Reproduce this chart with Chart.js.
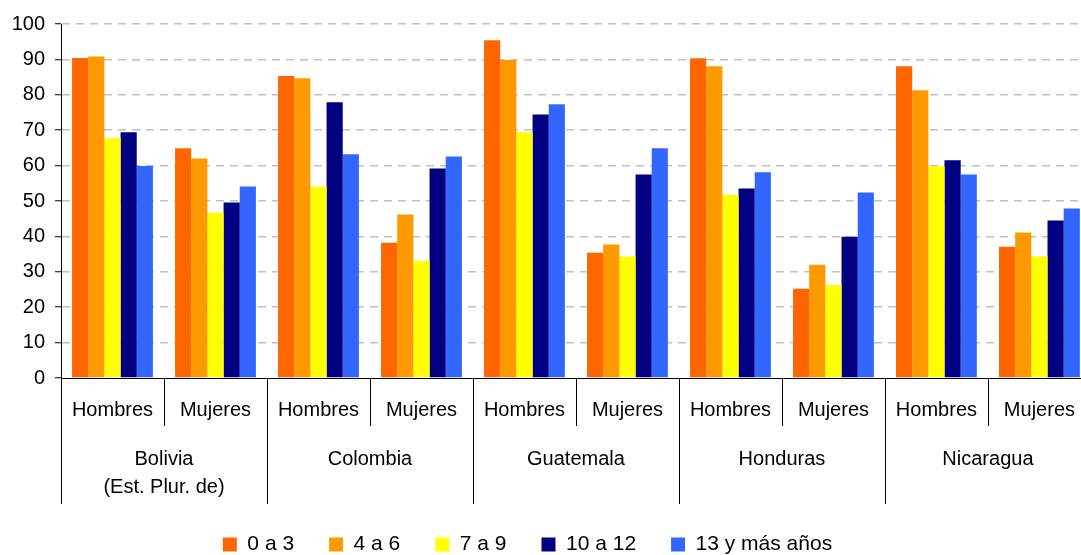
<!DOCTYPE html>
<html>
<head>
<meta charset="utf-8">
<script src="https://cdn.jsdelivr.net/npm/chart.js@4.4.1/dist/chart.umd.min.js"></script>
<style>
  html, body { margin: 0; padding: 0; background: #fff; overflow: hidden; }
  #wrap { width: 1095px; height: 600px; }
</style>
</head>
<body>
<div id="wrap"><canvas id="chart" width="1095" height="600"></canvas></div>
<script>
// ================= DATA =================
const sexLabels = ["Hombres", "Mujeres", "Hombres", "Mujeres", "Hombres", "Mujeres", "Hombres", "Mujeres", "Hombres", "Mujeres"];
const countries = [["Bolivia", "(Est. Plur. de)"], ["Colombia"], ["Guatemala"], ["Honduras"], ["Nicaragua"]];
const seriesNames = ["0 a 3", "4 a 6", "7 a 9", "10 a 12", "13 y más años"];

const years0to3 = [90.4, 64.9, 85.3, 38.2, 95.4, 35.4, 90.3, 25.2, 88.1, 37.1];
const years4to6 = [90.8, 62.0, 84.7, 46.2, 89.8, 37.7, 88.1, 32.0, 81.3, 41.1];
const years7to9 = [67.8, 46.7, 54.1, 33.1, 69.4, 34.3, 51.8, 26.3, 59.8, 34.3];
const years10to12 = [69.4, 49.6, 77.9, 59.2, 74.4, 57.5, 53.5, 39.9, 61.5, 44.5];
const years13plus = [59.9, 54.1, 63.2, 62.6, 77.3, 64.9, 58.1, 52.4, 57.5, 47.9];

const yTicks = [0, 10, 20, 30, 40, 50, 60, 70, 80, 90, 100];

const seriesColors = ["#FF6600", "#FF9900", "#FFFF00", "#000080", "#3366FF"];

Chart.defaults.font.family = "'Liberation Sans', Arial, sans-serif";
Chart.defaults.color = "#000";

// ================= X AXIS GROUPS =================
// dividers under the axis + country names
const groupLines = {
  id: "groupLines",
  afterLayout(chart) {
    // legend sits a bit left of the canvas centre in the original
    chart.legend.left -= 20;
    chart.legend.right -= 20;
  },
  afterDraw(chart) {
    const x = chart.scales.x;
    const ctx = chart.ctx;
    const area = chart.chartArea;
    const base = area.bottom;

    ctx.save();
    ctx.strokeStyle = "#000";
    ctx.lineWidth = 1;
    for (let i = 0; i <= sexLabels.length; i++) {
      let px;
      if (i === 0) px = area.left;
      else if (i === sexLabels.length) px = area.right;
      else px = (x.getPixelForValue(i - 1) + x.getPixelForValue(i)) / 2;
      px = Math.round(px) + 0.5;
      ctx.beginPath();
      ctx.moveTo(px, base);
      ctx.lineTo(px, i % 2 === 0 ? base + 126 : base + 48);
      ctx.stroke();
    }

    ctx.fillStyle = "#000";
    ctx.font = "20px 'Liberation Sans', Arial, sans-serif";
    ctx.textAlign = "center";
    ctx.textBaseline = "alphabetic";
    countries.forEach((lines, k) => {
      const cx = (x.getPixelForValue(2 * k) + x.getPixelForValue(2 * k + 1)) / 2;
      lines.forEach((line, j) => ctx.fillText(line, cx, base + 87 + j * 28));
    });
    ctx.restore();
  }
};

// ================= CHART =================
const seriesData = [years0to3, years4to6, years7to9, years10to12, years13plus];

new Chart(document.getElementById("chart"), {
  type: "bar",
  data: {
    labels: sexLabels,
    datasets: seriesNames.map((name, i) => ({
      label: name,
      data: seriesData[i],
      backgroundColor: seriesColors[i],
      borderWidth: 0,
      categoryPercentage: 0.785,
      barPercentage: 1
    }))
  },
  options: {
    responsive: false,
    animation: false,
    layout: { padding: { top: 24, bottom: 35, left: 0, right: 0 } },
    plugins: {
      tooltip: { enabled: false },
      legend: {
        position: "bottom",
        labels: {
          boxWidth: 14,
          boxHeight: 14,
          padding: 35,
          color: "#000",
          font: { size: 21 }
        }
      }
    },
    scales: {
      x: {
        grid: { display: false, drawTicks: false },
        border: { display: true, color: "#000", width: 1 },
        ticks: { color: "#000", font: { size: 20 }, padding: 20, maxRotation: 0, autoSkip: false },
        afterFit(scale) { scale.height = 121; }
      },
      y: {
        min: 0,
        max: 100,
        afterBuildTicks(scale) { scale.ticks = yTicks.map(v => ({ value: v })); },
        ticks: { color: "#000", font: { size: 20 }, padding: 10 },
        grid: {
          color: c => (c.tick && c.tick.value === 0 ? "rgba(0,0,0,0)" : "#c0c0c0"),
          lineWidth: 1.5,
          tickColor: "#000",
          tickLength: 6,
          tickWidth: 1
        },
        border: { color: "#000", width: 1, dash: [8, 6] },
        afterFit(scale) { scale.width = 61; }
      }
    }
  },
  plugins: [groupLines]
});
</script>
</body>
</html>
